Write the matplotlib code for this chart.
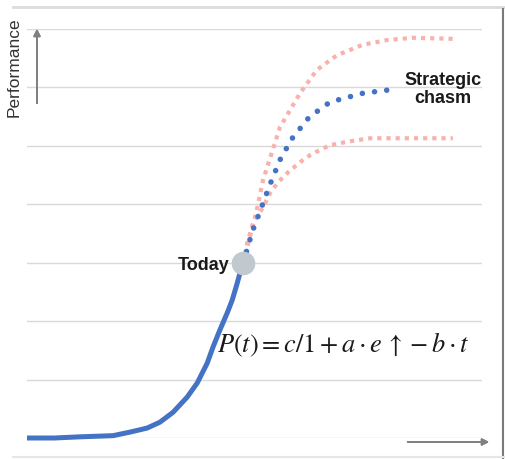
import matplotlib
matplotlib.use('Agg')
import matplotlib.pyplot as plt
from matplotlib.lines import Line2D

# curve values (t = time, p = performance)
t_past = [0, 0.60, 1.16, 1.89, 2.26, 2.64, 2.92, 3.21, 3.52, 3.74, 3.96,
          4.09, 4.24, 4.40, 4.51, 4.62, 4.70, 4.75]
p_past = [0, 0.0, 0.02, 0.04, 0.10, 0.17, 0.27, 0.44, 0.70, 0.94, 1.28,
          1.56, 1.85, 2.14, 2.36, 2.65, 2.88, 2.99]

t_mid = [4.75, 4.95, 5.14, 5.32, 5.56, 5.82, 6.20, 6.66, 7.38, 7.98]
p_mid = [2.99, 3.53, 3.92, 4.30, 4.76, 5.12, 5.49, 5.75, 5.90, 5.96]

t_high = [4.75, 5.05, 5.19, 5.38, 5.56, 5.78, 6.00, 6.37, 6.81, 7.38, 7.91, 8.48, 9.45]
p_high = [2.99, 3.90, 4.42, 4.88, 5.32, 5.61, 5.90, 6.30, 6.55, 6.73, 6.81, 6.85, 6.83]

t_low = [4.75, 4.84, 4.97, 5.19, 5.34, 5.52, 5.74, 6.00, 6.22, 6.44, 6.66, 7.03, 7.54, 8.13, 9.36]
p_low = [2.99, 3.34, 3.68, 3.95, 4.19, 4.38, 4.55, 4.72, 4.84, 4.93, 5.01, 5.07, 5.13, 5.13, 5.13]

today = (4.75, 2.99)
grid_levels = [0, 1, 2, 3, 4, 5, 6, 7]

blue = '#4472c4'
pink = '#f7b2ad'
grey = '#808080'

plt.rcParams['mathtext.fontset'] = 'stix'

fig = plt.figure(figsize=(5.05, 4.59), dpi=100)
ax = fig.add_axes([27 / 505, 1 - 438 / 459, 455 / 505, 409 / 459])
ax.set_xlim(0, 10)
ax.set_ylim(0, 7)
ax.axis('off')

for g in grid_levels:
    ax.axhline(g, color='#d9d9d9', lw=1, zorder=0)

# scenarios
for tt, pp in [(t_high, p_high), (t_low, p_low)]:
    ax.plot(tt, pp, color=pink, lw=3.0, linestyle=(0, (1, 1.2)),
            dash_capstyle='butt', clip_on=False, zorder=2)
ax.plot(t_mid, p_mid, color=blue, lw=4.0, linestyle=(0, (0.01, 2.2)),
        dash_capstyle='round', clip_on=False, zorder=3)
ax.plot(t_past, p_past, color=blue, lw=3.6, solid_capstyle='butt',
        solid_joinstyle='round', clip_on=False, zorder=4)
ax.plot([today[0]], [today[1]], 'o', color='#bfc9ce', markersize=16, zorder=5)

ax.text(4.45, 2.96, 'Today', ha='right', va='center', fontsize=13,
        fontweight='bold', family='Liberation Sans', color='#1a1a1a')
ax.text(9.14, 5.96, 'Strategic\nchasm', ha='center', va='center', fontsize=13,
        fontweight='bold', family='Liberation Sans', color='#1a1a1a',
        linespacing=1.05)

ax.text(4.18, 1.60, r'$P(t)=c/1+a\cdot e\,\uparrow-b\cdot t$',
        ha='left', va='center', fontsize=19, color='#1a1a1a')

fig.text(14 / 505, 1 - 67 / 459, 'Performance', rotation=90, ha='center',
         va='center', fontsize=12.5, family='Liberation Sans', color='#333333')

# axis arrows
fig.add_artist(plt.annotate('', xy=(37 / 505, 1 - 26 / 459), xytext=(37 / 505, 1 - 106 / 459),
                            xycoords='figure fraction',
                            arrowprops=dict(arrowstyle='-|>', color=grey, lw=1.3,
                                            mutation_scale=10)))
fig.add_artist(plt.annotate('', xy=(492 / 505, 1 - 442 / 459), xytext=(405 / 505, 1 - 442 / 459),
                            xycoords='figure fraction',
                            arrowprops=dict(arrowstyle='-|>', color=grey, lw=1.3,
                                            mutation_scale=10)))

# frame around the picture
fig.add_artist(Line2D([13 / 505, 1], [1 - 7 / 459, 1 - 7 / 459], color='#dcdcdc', lw=2))
fig.add_artist(Line2D([503 / 505, 503 / 505], [0, 1 - 9 / 459], color='#7a7a7a', lw=1.5))
fig.add_artist(Line2D([13 / 505, 1], [1 - 457 / 459, 1 - 457 / 459], color='#e6e6e6', lw=1.5))

fig.savefig('out.png', dpi=100)
